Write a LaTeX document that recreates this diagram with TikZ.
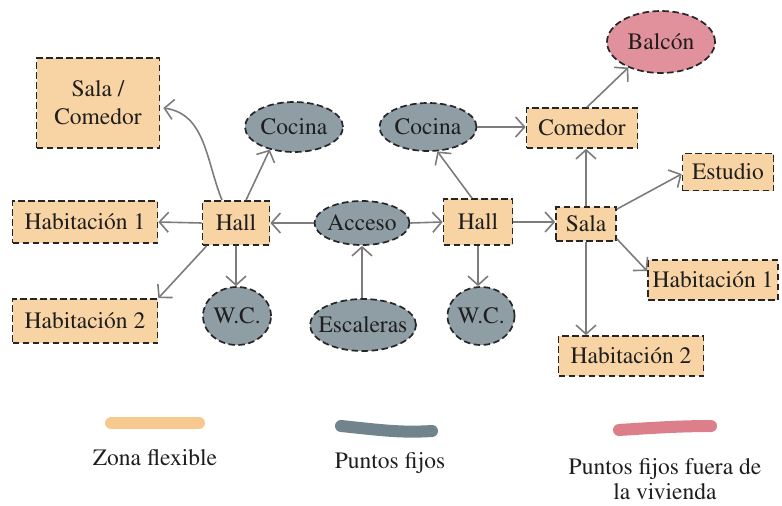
\documentclass[tikz,border=0pt]{standalone}
\usepackage[T1]{fontenc}
\usepackage{mathptmx}
\usetikzlibrary{shapes.geometric,arrows.meta,calc}

\definecolor{flex}{HTML}{F8D3A3}
\definecolor{fijo}{HTML}{8F9DA5}
\definecolor{fuera}{HTML}{E0919B}
\definecolor{flexline}{HTML}{F7C98F}
\definecolor{fijoline}{HTML}{71838C}
\definecolor{fueraline}{HTML}{DC7F8A}
\definecolor{arrgray}{HTML}{7C7C7C}
\definecolor{ink}{HTML}{1E1E1E}

\tikzset{
  every node/.style={text=ink, font=\rmfamily\fontsize{23.5}{28}\selectfont},
  border/.style={draw=black!85, line width=1.7pt, dash pattern=on 6.5pt off 3.5pt},
  zone/.style={border, rectangle, fill=flex, inner sep=0pt, align=center},
  fixed/.style={border, ellipse, fill=fijo, inner sep=0pt},
  outside/.style={border, ellipse, fill=fuera, inner sep=0pt},
  arr/.style={draw=arrgray, line width=1.6pt, -{Straight Barb[length=9pt,width=20pt]}},
  swatch/.style={line width=12pt, line cap=round},
  legendtext/.style={align=center, font=\rmfamily\fontsize{23.5}{25}\selectfont}
}

\begin{document}
\begin{tikzpicture}[x=1pt,y=1pt]
\useasboundingbox (0,0) rectangle (782,-506);

% first dwelling
\node[zone, minimum width=123, minimum height=90] (salacom) at (98,-103) {Sala /\\Comedor};
\node[fixed, minimum width=98, minimum height=50, label={center:Cocina}] (cocinaL) at (294,-127) {};
\node[zone, minimum width=145, minimum height=42] (hab1L) at (85,-222) {Habitación 1};
\node[zone, minimum width=67, minimum height=44] (hallL) at (236,-223) {Hall};
\node[fixed, minimum width=68, minimum height=58, label={center:W.C.}] (wcL) at (237,-316) {};
\node[zone, minimum width=145, minimum height=44] (hab2L) at (85,-321) {Habitación 2};

% shared access
\node[fixed, minimum width=95, minimum height=44, label={center:Acceso}] (acceso) at (362,-223) {};
\node[fixed, minimum width=106, minimum height=52, label={center:Escaleras}] (escaleras) at (363,-325) {};

% second dwelling
\node[fixed, minimum width=97, minimum height=48, label={center:Cocina}] (cocinaR) at (428,-127) {};
\node[zone, minimum width=111, minimum height=40] (comedor) at (582,-128) {Comedor};
\node[outside, minimum width=108, minimum height=62, label={center:Balcón}] (balcon) at (661,-42) {};
\node[zone, minimum width=91, minimum height=37] (estudio) at (728,-172) {Estudio};
\node[zone, minimum width=69, minimum height=46] (hallR) at (478,-222) {Hall};
\node[zone, minimum width=60, minimum height=34] (sala) at (586,-224) {Sala};
\node[fixed, minimum width=67, minimum height=58, label={center:W.C.}] (wcR) at (481,-316) {};
\node[zone, minimum width=130, minimum height=40] (hab1R) at (713,-280) {Habitación 1};
\node[zone, minimum width=145, minimum height=40] (hab2R) at (631,-356) {Habitación 2};

% connections, first dwelling
\draw[arr] ([xshift=-14pt]hallL.north) to[out=112,in=-8] ([shift={(3pt,-5pt)}]salacom.east);
\draw[arr] ([xshift=10pt]hallL.north) -- (cocinaL.223);
\draw[arr] (hallL.west) -- (hab1L.east);
\draw[arr] ([xshift=5pt]hallL.south west) -- (hab2L.north east);
\draw[arr] (hallL.south) -- (hallL.south |- wcL.north);
\draw[arr] (acceso.west) -- (hallL.east);
\draw[arr] (acceso.south |- escaleras.north) -- (acceso.south);
\draw[arr] (acceso.east) -- (hallR.west);

% connections, second dwelling
\draw[arr] ([xshift=-6pt]hallR.north) -- (cocinaR.291);
\draw[arr] (hallR.south) -- (hallR.south |- wcR.north);
\draw[arr] (hallR.east) -- (hallR.east -| sala.west);
\draw[arr] (cocinaR.east) -- (cocinaR.east -| comedor.west);
\draw[arr] ([xshift=5pt]comedor.north) -- (balcon.218);
\draw[arr] (sala.north) -- (sala.north |- comedor.south);
\draw[arr] ([yshift=-3pt]sala.north east) -- ([yshift=-2pt]estudio.west);
\draw[arr] ([yshift=3pt]sala.south east) -- ([yshift=9pt]hab1R.west);
\draw[arr] (sala.south) -- (sala.south |- hab2R.north);

% legend
\draw[swatch, flexline] (111,-423) -- (199,-423);
\draw[swatch, fijoline] (341,-426) .. controls (380,-430) and (400,-433) .. (432,-431);
\draw[swatch, fueraline] (619,-430) .. controls (650,-428) and (680,-426) .. (711,-426);
\node[legendtext] (lflex) at (155,-458) {Zona flexible};
\node[legendtext] (lfijo) at (390,-463) {Puntos fijos};
\node[legendtext] (lfuera) at (665,-479) {Puntos fijos fuera de\\la vivienda};
\end{tikzpicture}
\end{document}
